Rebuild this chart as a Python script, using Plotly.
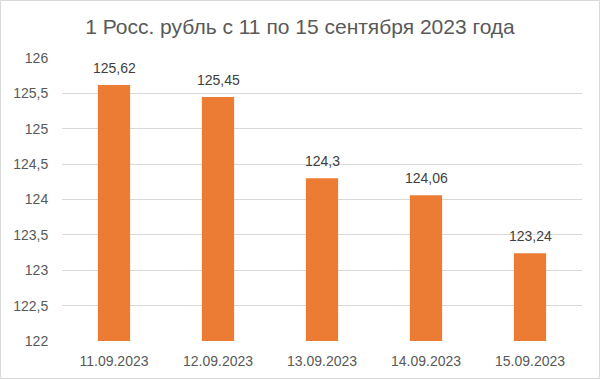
import plotly.graph_objects as go

dates = ["11.09.2023", "12.09.2023", "13.09.2023", "14.09.2023", "15.09.2023"]
values = [125.62, 125.45, 124.3, 124.06, 123.24]
labels = [str(v).replace(".", ",") for v in values]
title = "1 Росс. рубль с 11 по 15 сентября 2023 года"
base_value = 122

fig = go.Figure(go.Bar(
    x=dates, y=[v - base_value for v in values], base=base_value,
    marker=dict(color="#EC7C34", line=dict(width=0)),
    cliponaxis=False,
))

for d, v, t in zip(dates, values, labels):
    fig.add_annotation(x=d, y=v, text=t, showarrow=False, yanchor="bottom", yshift=7,
                       font=dict(family="Liberation Sans, Arial", size=14, color="#404040"))

fig.update_layout(
    width=600, height=379,
    margin=dict(l=62, r=18, t=58, b=38, autoexpand=False),
    paper_bgcolor="white", plot_bgcolor="white",
    separators=", ",
    bargap=0.69,
    showlegend=False,
    title=dict(text=title, x=0.5, xanchor="center", y=1 - 27 / 379, yanchor="middle",
               font=dict(family="Liberation Sans, Arial", size=21, color="#595959")),
    font=dict(family="Liberation Sans, Arial", size=14, color="#595959"),
    xaxis=dict(showgrid=False, showline=False, ticks="outside", ticklen=7, automargin=False,
               tickcolor="rgba(0,0,0,0)", tickfont=dict(size=14, color="#595959")),
    yaxis=dict(range=[122, 126], dtick=0.5, tick0=122, showgrid=True, gridcolor="#D9D9D9",
               gridwidth=1, zeroline=False, showline=False, automargin=False,
               ticks="outside", ticklen=10, tickcolor="rgba(0,0,0,0)",
               tickfont=dict(size=14, color="#595959")),
    shapes=[dict(type="rect", xref="paper", yref="paper",
                 x0=-61.5 / 520, x1=1 + 17.5 / 520, y0=-37.5 / 283, y1=1 + 57.5 / 283,
                 line=dict(color="#D9D9D9", width=1), fillcolor="rgba(0,0,0,0)")],
)
fig.write_html("out.html")
